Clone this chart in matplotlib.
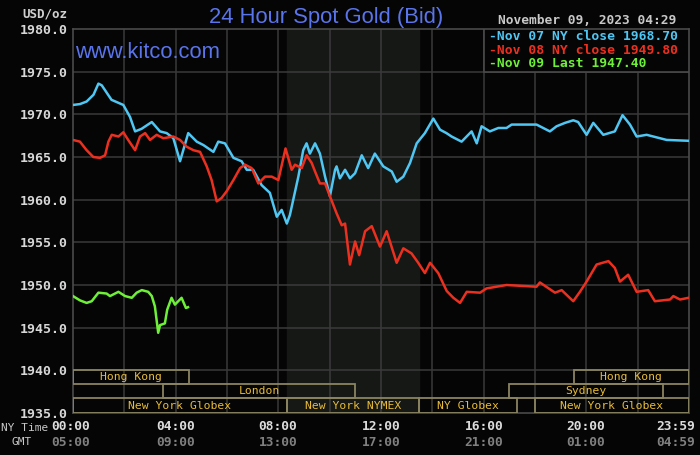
import matplotlib
matplotlib.use("Agg")
import matplotlib.pyplot as plt
from matplotlib.patches import Rectangle

# hours after midnight NY time, price in USD/oz
nov07_t = [0.0, 0.27, 0.53, 0.8, 0.99, 1.12, 1.5, 1.96, 2.22, 2.42, 2.67, 3.07, 3.39, 3.65,
           3.91, 4.17, 4.49, 4.82, 5.08, 5.47, 5.66, 5.92, 6.25, 6.57, 6.77, 7.02, 7.35,
           7.67, 7.94, 8.13, 8.33, 8.45, 8.78, 8.97, 9.10, 9.23, 9.43, 9.62, 9.82, 10.01,
           10.21, 10.27, 10.40, 10.60, 10.79, 10.99, 11.25, 11.50, 11.76, 12.09, 12.42,
           12.61, 12.87, 13.13, 13.39, 13.71, 14.04, 14.30, 14.55, 14.75, 15.14, 15.53,
           15.73, 15.92, 16.24, 16.57, 16.89, 17.09, 18.06, 18.58, 18.84, 19.17, 19.49,
           19.68, 20.01, 20.27, 20.66, 21.11, 21.41, 21.70, 21.96, 22.35, 23.13, 23.98]
nov07_p = [1971.1, 1971.2, 1971.5, 1972.3, 1973.6, 1973.4, 1971.7, 1971.1, 1969.7, 1968.0,
           1968.3, 1969.1, 1968.0, 1967.8, 1967.2, 1964.5, 1967.8, 1966.8, 1966.4, 1965.6,
           1966.8, 1966.6, 1964.9, 1964.5, 1963.5, 1963.5, 1961.7, 1960.8, 1958.0, 1958.8,
           1957.2, 1958.2, 1962.7, 1965.8, 1966.6, 1965.4, 1966.6, 1965.4, 1962.7, 1960.4,
           1963.5, 1963.9, 1962.5, 1963.5, 1962.5, 1963.1, 1965.2, 1963.7, 1965.4, 1963.9,
           1963.3, 1962.1, 1962.7, 1964.3, 1966.6, 1967.8, 1969.5, 1968.2, 1967.8, 1967.4,
           1966.8, 1968.0, 1966.6, 1968.6, 1968.0, 1968.4, 1968.4, 1968.8, 1968.8, 1968.0,
           1968.6, 1969.0, 1969.3, 1969.1, 1967.6, 1969.0, 1967.6, 1968.0, 1969.9, 1968.8,
           1967.4, 1967.6, 1967.0, 1966.9]

nov08_t = [0.0, 0.27, 0.53, 0.79, 1.05, 1.25, 1.38, 1.51, 1.77, 1.96, 2.15, 2.42, 2.61,
           2.81, 3.0, 3.26, 3.52, 3.91, 4.17, 4.43, 4.69, 4.95, 5.21, 5.40, 5.60, 5.79,
           5.99, 6.25, 6.51, 6.70, 6.96, 7.22, 7.48, 7.74, 8.0, 8.28, 8.52, 8.65, 8.91,
           9.10, 9.30, 9.43, 9.62, 9.82, 10.01, 10.27, 10.47, 10.60, 10.79, 10.99, 11.15,
           11.38, 11.64, 11.96, 12.22, 12.61, 12.87, 13.19, 13.45, 13.71, 13.91, 14.23,
           14.56, 14.82, 15.08, 15.34, 15.86, 16.11, 16.89, 18.06, 18.19, 18.78, 19.04,
           19.49, 19.75, 20.01, 20.40, 20.86, 21.11, 21.31, 21.63, 21.96, 22.41, 22.67,
           23.26, 23.39, 23.65, 23.98]
nov08_p = [1967.0, 1966.8, 1965.8, 1965.0, 1964.9, 1965.2, 1966.8, 1967.6, 1967.4, 1967.9,
           1967.0, 1965.8, 1967.4, 1967.8, 1967.0, 1967.6, 1967.2, 1967.4, 1967.0, 1966.2,
           1965.8, 1965.6, 1963.9, 1962.3, 1959.8, 1960.2, 1961.0, 1962.3, 1963.7, 1964.1,
           1963.7, 1961.9, 1962.7, 1962.7, 1962.3, 1966.0, 1963.5, 1964.1, 1963.7, 1965.2,
           1964.3, 1963.3, 1961.9, 1961.9, 1960.4, 1958.4, 1957.0, 1957.2, 1952.4, 1955.1,
           1953.5, 1956.3, 1956.9, 1954.5, 1956.3, 1952.6, 1954.3, 1953.7, 1952.6, 1951.4,
           1952.6, 1951.4, 1949.3, 1948.5, 1947.9, 1949.2, 1949.1, 1949.6, 1950.0, 1949.8,
           1950.3, 1949.1, 1949.4, 1948.1, 1949.2, 1950.4, 1952.4, 1952.8, 1952.0, 1950.4,
           1951.2, 1949.2, 1949.4, 1948.1, 1948.3, 1948.7, 1948.3, 1948.5]

nov09_t = [0.0, 0.27, 0.53, 0.73, 0.99, 1.31, 1.44, 1.77, 2.03, 2.29, 2.48, 2.68, 2.93,
           3.07, 3.19, 3.32, 3.39, 3.58, 3.67, 3.84, 3.97, 4.23, 4.40, 4.48]
nov09_p = [1948.7, 1948.2, 1947.9, 1948.1, 1949.1, 1949.0, 1948.7, 1949.2, 1948.7, 1948.5,
           1949.1, 1949.4, 1949.2, 1948.7, 1947.5, 1944.4, 1945.3, 1945.5, 1947.1, 1948.5,
           1947.7, 1948.5, 1947.3, 1947.4]

legend_txt = ["Nov 07 NY close 1968.70", "Nov 08 NY close 1949.80", "Nov 09 Last 1947.40"]

# trading sessions: (row, start hour, end hour, label)
sessions = [(0, 0.0, 4.5, "Hong Kong"), (0, 19.5, 24.0, "Hong Kong"),
            (1, 3.5, 11.0, "London"), (1, 17.0, 23.0, "Sydney"),
            (2, 0.0, 8.33, "New York Globex"), (2, 8.33, 13.5, "New York NYMEX"),
            (2, 13.5, 17.3, "NY Globex"), (2, 18.0, 24.0, "New York Globex")]

ny_ticks = ["00:00", "04:00", "08:00", "12:00", "16:00", "20:00", "23:59"]
gmt_ticks = ["05:00", "09:00", "13:00", "17:00", "21:00", "01:00", "04:59"]

blue = "#50c6f2"
red = "#ec3020"
green = "#6ef038"
title_c = "#5a74ec"
mono = "DejaVu Sans Mono"

fig = plt.figure(figsize=(7, 4.55), dpi=100, facecolor="#050505")
ax = fig.add_axes([73 / 700, 1 - 413 / 455, 616 / 700, 384 / 455])
ax.set_facecolor("#050505")
ax.set_xlim(0, 24)
ax.set_ylim(1935, 1980)

# NYMEX open shading
ax.axvspan(8.33, 13.5, color="#151815", zorder=0)

for h in range(2, 24, 2):
    ax.axvline(h, color="#3a3a3a", lw=1.1, zorder=1)
for p in range(1940, 1980, 5):
    ax.axhline(p, color="#3a3a3a", lw=1.1, zorder=1)
for s in ax.spines.values():
    s.set_color("#4a4a4a")
    s.set_linewidth(1.2)

ax.set_yticks(range(1935, 1981, 5))
ax.set_yticklabels(["%.1f" % v for v in range(1935, 1981, 5)])
ax.tick_params(axis="y", length=0, pad=4, colors="#d8d8d8", labelsize=9.5)
for lab in ax.get_yticklabels():
    lab.set_fontfamily(mono)
    lab.set_fontweight("bold")
ax.set_xticks([])

# session boxes
row_y = [(1938.45, 1940.0), (1936.7, 1938.45), (1935.0, 1936.7)]
for row, a, b, name in sessions:
    y0, y1 = row_y[row]
    ax.add_patch(Rectangle((a, y0), b - a, y1 - y0, fill=False, ec="#8a8460", lw=1.3, zorder=3))
    ax.text((a + b) / 2, (y0 + y1) / 2 - 0.05, name, ha="center", va="center",
            color="#e8bc38", fontsize=8.2, family=mono, zorder=4)

ax.plot(nov07_t, nov07_p, color=blue, lw=1.8, zorder=5)
ax.plot(nov08_t, nov08_p, color=red, lw=1.8, zorder=5)
ax.plot(nov09_t, nov09_p, color=green, lw=1.8, zorder=5)

# legend box
ax.add_patch(Rectangle((16.0, 1975.0), 8.0, 5.0, fc="#050505", ec="#4a4a4a", lw=1.2, zorder=6))
for i, (txt, c) in enumerate(zip(legend_txt, [blue, red, green])):
    ax.text(16.2, 1979.15 - i * 1.62, "-" + txt, color=c, fontsize=9.4, family=mono,
            fontweight="bold", va="center", ha="left", zorder=7)

# titles
fig.text(326 / 700, 1 - 17 / 455, "24 Hour Spot Gold (Bid)", color=title_c, fontsize=15.8,
         family="Liberation Sans", ha="center", va="center")
fig.text(75 / 700, 1 - 53 / 455, "www.kitco.com", color=title_c, fontsize=15.8,
         family="Liberation Sans", ha="left", va="center", zorder=8)
fig.text(587 / 700, 1 - 20 / 455, "November 09, 2023 04:29", color="#c8c8c8", fontsize=9.3,
         family=mono, fontweight="bold", ha="center", va="center")
fig.text(45 / 700, 1 - 14 / 455, "USD/oz", color="#d0d0d0", fontsize=9, family=mono,
         fontweight="bold", ha="center", va="center")

# time labels
fig.text(25 / 700, 1 - 428 / 455, "NY Time", color="#c8c8c8", fontsize=8, family=mono,
         ha="center", va="center")
fig.text(22 / 700, 1 - 442 / 455, "GMT", color="#c8c8c8", fontsize=8, family=mono,
         ha="center", va="center")
xs = [71, 176, 278, 381, 484, 586, 676]
for x, a, b in zip(xs, ny_ticks, gmt_ticks):
    fig.text(x / 700, 1 - 426 / 455, a, color="#dcdcdc", fontsize=9.3, family=mono,
             fontweight="bold", ha="center", va="center")
    fig.text(x / 700, 1 - 442 / 455, b, color="#808080", fontsize=9.3, family=mono,
             fontweight="bold", ha="center", va="center")

fig.savefig("out.png", dpi=100, facecolor=fig.get_facecolor())
